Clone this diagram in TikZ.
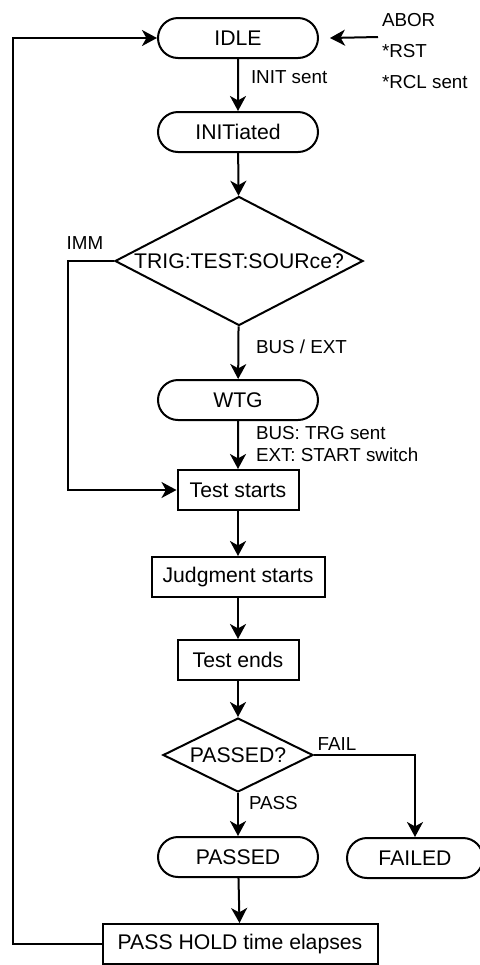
\documentclass[tikz,border=0pt]{standalone}
\usepackage{fontspec}
\setmainfont{Liberation Sans}
\usetikzlibrary{shapes.geometric,shapes.misc,arrows.meta}
\begin{document}
\begin{tikzpicture}[x=0.5pt,y=-0.5pt,line width=1pt,
  >={Stealth[length=7.5pt,width=8pt,inset=2.2pt]},
  every node/.style={font=\fontsize{10.6}{12.7}\selectfont},
  state/.style={draw,rounded rectangle,minimum width=80pt,minimum height=20pt,inner sep=0pt},
  box/.style={draw,rectangle,minimum height=20pt,inner sep=0pt},
  query/.style={draw,diamond,inner sep=0pt},
  note/.style={font=\fontsize{9.4}{11}\selectfont,inner sep=0pt,align=left}]
\useasboundingbox (0,0) rectangle (480,965);
\node[state] (idle) at (238,38) {IDLE};
\node[state] (init) at (238,132) {INITiated};
\node[query,minimum width=124pt,minimum height=64.5pt,label=center:{TRIG:TEST:SOURce?}] (trig) at (239,261) {};
\node[state] (wtg) at (238,400) {WTG};
\node[box,minimum width=60.5pt] (tstart) at (238,490) {Test starts};
\node[box,minimum width=86.5pt] (judg) at (238,577) {Judgment starts};
\node[box,minimum width=60.5pt] (tend) at (238,660) {Test ends};
\node[query,minimum width=75pt,minimum height=37pt,label=center:{PASSED?}] (pq) at (238,755) {};
\node[state] (passed) at (238,857) {PASSED};
\node[state,minimum width=68pt] (failed) at (415,858) {FAILED};
\node[box,minimum width=137.5pt] (hold) at (240,944) {PASS HOLD time elapses};
\node[note,anchor=north west,font=\fontsize{9.4}{15.5}\selectfont] (cmds) at (381,12) {ABOR\\*RST\\*RCL sent};
\coordinate (src) at (378,37);
\node[note,anchor=west] (initsent) at (250,77) {INIT sent};
\node[note] (imm) at (85,243) {IMM};
\node[note,anchor=west] (busext) at (255,347) {BUS / EXT};
\node[note,anchor=west] (trgsent) at (255,444) {BUS: TRG sent\\EXT: START switch};
\node[note] (fail) at (337,744) {FAIL};
\node[note,anchor=west] (pass) at (248,803) {PASS};
\draw[->] (src) -- ([xshift=5.5pt]idle.east);
\draw[->] (idle) -- (init);
\draw[->] (init) -- (trig);
\draw[->] (trig.west) -- ++(-46,0) |- (tstart.west);
\draw[->] (trig) -- (wtg);
\draw[->] (wtg) -- (tstart);
\draw[->] (tstart) -- (judg);
\draw[->] (judg) -- (tend);
\draw[->] (tend) -- (pq);
\draw[->] (pq.east) -| (failed.north);
\draw[->] (pq) -- (passed);
\draw[->] (passed) -- (hold);
\draw[->] (hold.west) -- ++(-89,0) |- (idle.west);
\end{tikzpicture}
\end{document}
